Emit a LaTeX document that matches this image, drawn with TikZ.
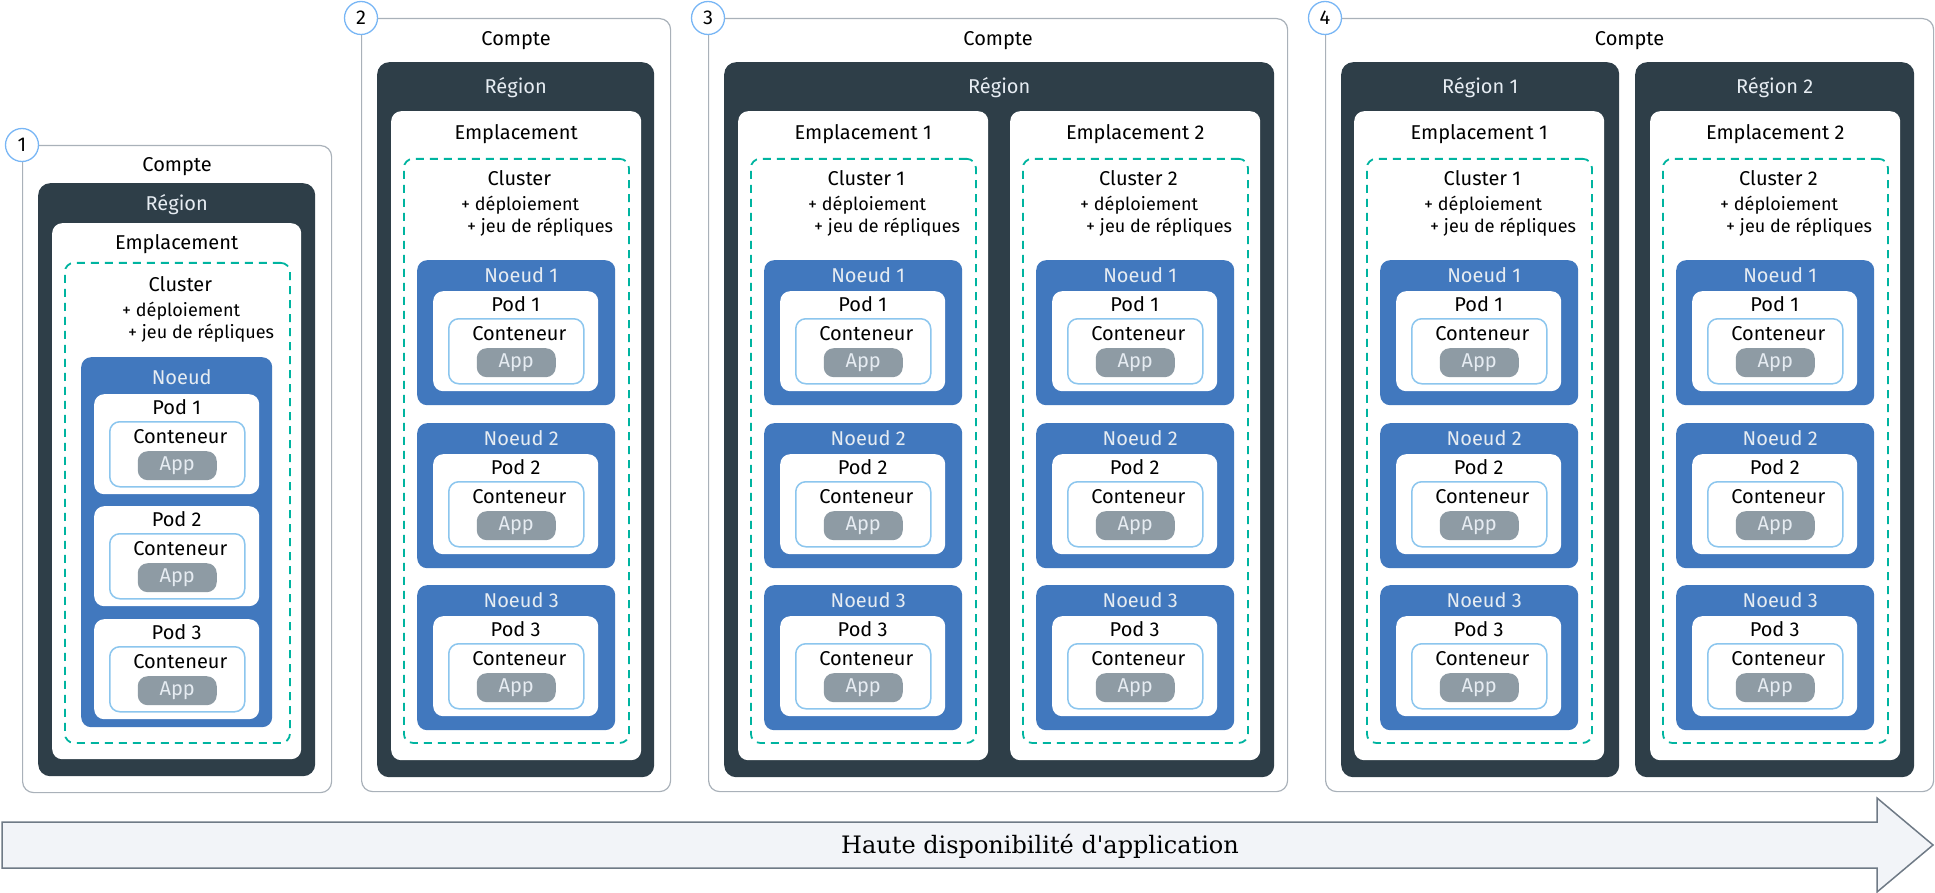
\documentclass[tikz,border=0pt]{standalone}
\usepackage{fontspec}
\newfontfamily\plexsans{Fira Sans}
\newfontfamily\plexserif{DejaVu Serif}
\usetikzlibrary{positioning}

\definecolor{comptegris}{HTML}{A9B1B9}
\definecolor{numbleu}{HTML}{78B6F5}
\definecolor{regionfonce}{HTML}{2E3E48}
\definecolor{clustervert}{HTML}{00B4A0}
\definecolor{noeudbleu}{HTML}{4178BE}
\definecolor{conteneurbleu}{HTML}{8CC6EE}
\definecolor{appgris}{HTML}{8E9BA4}
\definecolor{flechefond}{HTML}{F2F4F8}
\definecolor{flechebord}{HTML}{6F7A86}
\definecolor{textclair}{HTML}{E6ECF2}

\tikzset{
  boite/.style={rectangle, inner sep=0pt, anchor=north west},
  compte/.style={boite, draw=comptegris, line width=1.2pt, rounded corners=11pt},
  numero/.style={circle, draw=numbleu, fill=white, line width=1.3pt, minimum size=33pt, inner sep=0pt, font=\plexsans\fontsize{20}{24}\selectfont},
  region/.style={boite, fill=regionfonce, rounded corners=12pt},
  emplacement/.style={boite, fill=white, rounded corners=10pt},
  cluster/.style={boite, draw=clustervert, line width=1.8pt, dash pattern=on 8pt off 6pt, rounded corners=9pt},
  noeud/.style={boite, fill=noeudbleu, rounded corners=10pt},
  pod/.style={boite, fill=white, rounded corners=10pt},
  conteneur/.style={boite, draw=conteneurbleu, fill=white, line width=1.5pt, rounded corners=10pt},
  app/.style={boite, anchor=north, fill=appgris, rounded corners=10pt, text=textclair, font=\plexsans\fontsize{20}{24}\selectfont, text height=14pt, text depth=4pt},
  etiquette/.style={font=\plexsans\fontsize{20}{24}\selectfont, inner sep=0pt, text height=16.5pt, text depth=1.5pt},
  ajout/.style={etiquette, anchor=west, font=\plexsans\fontsize{18}{22}\selectfont},
  fleche/.style={fill=flechefond, draw=flechebord, line width=1.5pt},
  flechetexte/.style={font=\plexserif\fontsize{24}{29}\selectfont, inner sep=0pt},
}

% pod : nom, x, y, numero
\newcommand{\podbloc}[4]{%
  \node[pod, minimum width=165, minimum height=100] (#1) at (#2,#3) {};
  \node[etiquette] (#1t) at ([yshift=-13pt]#1.north) {Pod #4};
  \node[conteneur, minimum width=135, minimum height=65] (#1c) at ([shift={(15pt,-27pt)}]#1.north west) {};
  \node[etiquette] (#1ct) at ([shift={(3pt,-15pt)}]#1c.north) {Conteneur};
  \node[app, minimum width=79, minimum height=29] (#1a) at ([yshift=-30pt]#1c.north) {App};
}

% noeud : nom, x, y, numero
\newcommand{\noeudbloc}[4]{%
  \node[noeud, minimum width=198, minimum height=145] (#1) at (#2,#3) {};
  \node[etiquette, text=textclair] (#1t) at ([shift={(5pt,-15pt)}]#1.north) {Noeud #4};
  \podbloc{#1p}{#2+16}{#3+31}{#4}
}

% emplacement : nom, x, emplacement, cluster
\newcommand{\empbloc}[4]{%
  \node[emplacement, minimum width=250, minimum height=649] (#1) at (#2,111) {};
  \node[etiquette] (#1t) at ([yshift=-21pt]#1.north) {#3};
  \node[cluster, minimum width=225, minimum height=584] (#1k) at (#2+12,158) {};
  \node[etiquette] (#1kt) at ([shift={(3pt,-20pt)}]#1k.north) {#4};
  \node[ajout] (#1kd) at ([shift={(58pt,-45pt)}]#1k.north west) {+ déploiement};
  \node[ajout] (#1kr) at ([shift={(64pt,-67pt)}]#1k.north west) {+ jeu de répliques};
  \noeudbloc{#1n1}{#2+26}{260}{1}
  \noeudbloc{#1n2}{#2+26}{423}{2}
  \noeudbloc{#1n3}{#2+26}{585}{3}
}

\begin{document}
\begin{tikzpicture}[x=1pt, y=-1pt]
        \useasboundingbox (0,0) rectangle (1935,893);

        % 1
        \node[compte, minimum width=309, minimum height=647] (c1) at (22,145) {};
        \node[numero] (num1) at (c1.north west) {1};
        \node[etiquette] (c1t) at ([yshift=-19pt]c1.north) {Compte};
        \node[region, minimum width=277, minimum height=593] (r1) at (38,183) {};
        \node[etiquette, text=textclair] (r1t) at ([yshift=-20pt]r1.north) {Région};
        \node[emplacement, minimum width=249, minimum height=536] (e1) at (52,223) {};
        \node[etiquette] (e1t) at ([yshift=-19pt]e1.north) {Emplacement};
        \node[cluster, minimum width=225, minimum height=480] (e1k) at (64,262) {};
        \node[etiquette] (e1kt) at ([shift={(3pt,-22pt)}]e1k.north) {Cluster};
        \node[ajout] (e1kd) at ([shift={(58pt,-47pt)}]e1k.north west) {+ déploiement};
        \node[ajout] (e1kr) at ([shift={(64pt,-69pt)}]e1k.north west) {+ jeu de répliques};
        \node[noeud, minimum width=191, minimum height=370] (e1n) at (81,357) {};
        \node[etiquette, text=textclair] (e1nt) at ([shift={(5pt,-20pt)}]e1n.north) {Noeud};
        \podbloc{e1p1}{94}{394}{1}
        \podbloc{e1p2}{94}{506}{2}
        \podbloc{e1p3}{94}{619}{3}

        % 2
        \node[compte, minimum width=309, minimum height=773] (c2) at (361,18) {};
        \node[numero] (num2) at (c2.north west) {2};
        \node[etiquette] (c2t) at ([yshift=-20pt]c2.north) {Compte};
        \node[region, minimum width=277, minimum height=715] (r2) at (377,62) {};
        \node[etiquette, text=textclair] (r2t) at ([yshift=-24pt]r2.north) {Région};
        \empbloc{e2}{391}{Emplacement}{Cluster}

        % 3
        \node[compte, minimum width=579, minimum height=773] (c3) at (708,18) {};
        \node[numero] (num3) at (c3.north west) {3};
        \node[etiquette] (c3t) at ([yshift=-20pt]c3.north) {Compte};
        \node[region, minimum width=550, minimum height=715] (r3) at (724,62) {};
        \node[etiquette, text=textclair] (r3t) at ([yshift=-24pt]r3.north) {Région};
        \empbloc{e3a}{738}{Emplacement 1}{Cluster 1}
        \empbloc{e3b}{1010}{Emplacement 2}{Cluster 2}

        % 4
        \node[compte, minimum width=608, minimum height=773] (c4) at (1325,18) {};
        \node[numero] (num4) at (c4.north west) {4};
        \node[etiquette] (c4t) at ([yshift=-20pt]c4.north) {Compte};
        \node[region, minimum width=278, minimum height=715] (r4a) at (1341,62) {};
        \node[etiquette, text=textclair] (r4at) at ([yshift=-24pt]r4a.north) {Région 1};
        \node[region, minimum width=279, minimum height=715] (r4b) at (1635,62) {};
        \node[etiquette, text=textclair] (r4bt) at ([yshift=-24pt]r4b.north) {Région 2};
        \empbloc{e4a}{1354}{Emplacement 1}{Cluster 1}
        \empbloc{e4b}{1650}{Emplacement 2}{Cluster 2}

        % fleche
        \draw[fleche] (2,822) -- (1877,822) -- (1877,798) -- (1933,845) -- (1877,892) -- (1877,868) -- (2,868) -- cycle;
        \node[flechetexte] (dispo) at (1040,846) {Haute disponibilité d\textquotesingle application};

\end{tikzpicture}
\end{document}
